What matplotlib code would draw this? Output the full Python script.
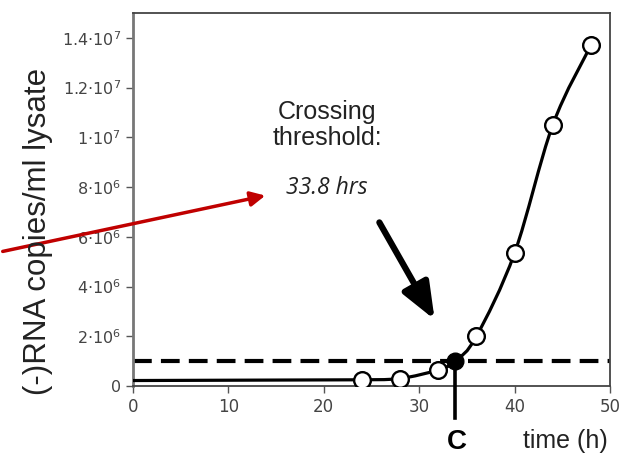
import numpy as np
import matplotlib
matplotlib.use("Agg")
import matplotlib.pyplot as plt
from matplotlib.path import Path
from matplotlib.patches import PathPatch, FancyArrowPatch

# data
time_h = [24, 28, 32, 36, 40, 44, 48]
rna_copies = [0.25e6, 0.3e6, 0.65e6, 2.0e6, 5.35e6, 10.5e6, 13.7e6]
baseline_level = 0.22e6
threshold = 1.0e6
crossing_time = 33.8

xticks = [0, 10, 20, 30, 40, 50]
yticks = [0, 2e6, 4e6, 6e6, 8e6, 1e7, 1.2e7, 1.4e7]
ytick_labels = ['0', '2·10$^6$', '4·10$^6$', '6·10$^6$', '8·10$^6$',
                '1·10$^7$', '1.2·10$^7$', '1.4·10$^7$']

plt.rcParams['mathtext.fontset'] = 'dejavusans'

fig = plt.figure(figsize=(6.2, 4.57), dpi=100)
ax = fig.add_axes([133 / 620, 71 / 457, 477 / 620, 373 / 457])
ax.set_xlim(0, 50)
ax.set_ylim(0, 1.5e7)

# smooth curve through the measured points plus the crossing point
cx = [time_h[0], time_h[1], time_h[2], crossing_time] + time_h[3:]
cy = [rna_copies[0], rna_copies[1], rna_copies[2], threshold] + rna_copies[3:]
pts = np.column_stack([cx, cy])
ext = np.vstack([pts[0], pts, pts[-1]])
verts = [tuple(pts[0])]
codes = [Path.MOVETO]
for i in range(1, len(ext) - 2):
    p0, p1, p2, p3 = ext[i - 1], ext[i], ext[i + 1], ext[i + 2]
    c1 = p1 + (p2 - p0) / 6
    c2 = p2 - (p3 - p1) / 6
    verts += [tuple(c1), tuple(c2), tuple(p2)]
    codes += [Path.CURVE4] * 3
ax.add_patch(PathPatch(Path(verts, codes), fill=False, lw=2.3,
                       edgecolor='black', zorder=3))
ax.plot([0, time_h[0]], [baseline_level, rna_copies[0]], color='black',
        lw=2.3, zorder=3)

ax.axhline(threshold, color='black', lw=3, dashes=(4.5, 2.2), zorder=2)

ax.plot(time_h, rna_copies, 'o', ms=12, mfc='white', mec='black', mew=1.7,
        zorder=4)
ax.plot([crossing_time], [threshold], 'o', ms=12, mfc='black', mec='black',
        zorder=5)
ax.plot([crossing_time, crossing_time], [threshold, -1.3e6], color='black',
        lw=2.6, clip_on=False, zorder=4)

ax.set_xticks(xticks)
ax.set_xticklabels([str(v) for v in xticks], fontsize=12, color='#444444')
ax.set_yticks(yticks)
ax.set_yticklabels(ytick_labels, fontsize=11.5, color='#444444')
ax.tick_params(direction='out', length=5, color='#555555', width=1)
for s in ax.spines.values():
    s.set_color('#444444')
    s.set_linewidth(1.3)
ax.spines['left'].set_color('#777777')
ax.spines['left'].set_linewidth(2)

fig.text(38 / 620, 1 - 231 / 457, '(-)RNA copies/ml lysate', rotation=90,
         ha='center', va='center', fontsize=22.5, family='Liberation Sans',
         color='#222222')
fig.text(327 / 620, 1 - 125 / 457, 'Crossing\nthreshold:', ha='center',
         va='center', fontsize=18, family='Liberation Sans', color='#222222',
         linespacing=1.1)
fig.text(327 / 620, 1 - 188 / 457, '33.8 hrs', ha='center', va='center',
         fontsize=16.5, family='Open Sans', style='italic', color='#222222')
fig.text(457 / 620, 1 - 442 / 457, 'C', ha='center', va='center',
         fontsize=20, family='Liberation Sans', weight='bold')
fig.text(565 / 620, 1 - 441 / 457, 'time (h)', ha='center', va='center',
         fontsize=18, family='Liberation Sans', color='#222222')

fig.add_artist(FancyArrowPatch(
    (0, 1 - 252 / 457), (268 / 620, 1 - 195 / 457),
    transform=fig.transFigure, arrowstyle='-|>', mutation_scale=22,
    color='#c00000', lw=2.5))
fig.add_artist(FancyArrowPatch(
    (378 / 620, 1 - 220 / 457), (436 / 620, 1 - 322 / 457),
    transform=fig.transFigure, arrowstyle='-|>,head_length=0.55,head_width=0.22',
    mutation_scale=40, color='black', lw=4.5))

fig.savefig('out.png', dpi=100)
